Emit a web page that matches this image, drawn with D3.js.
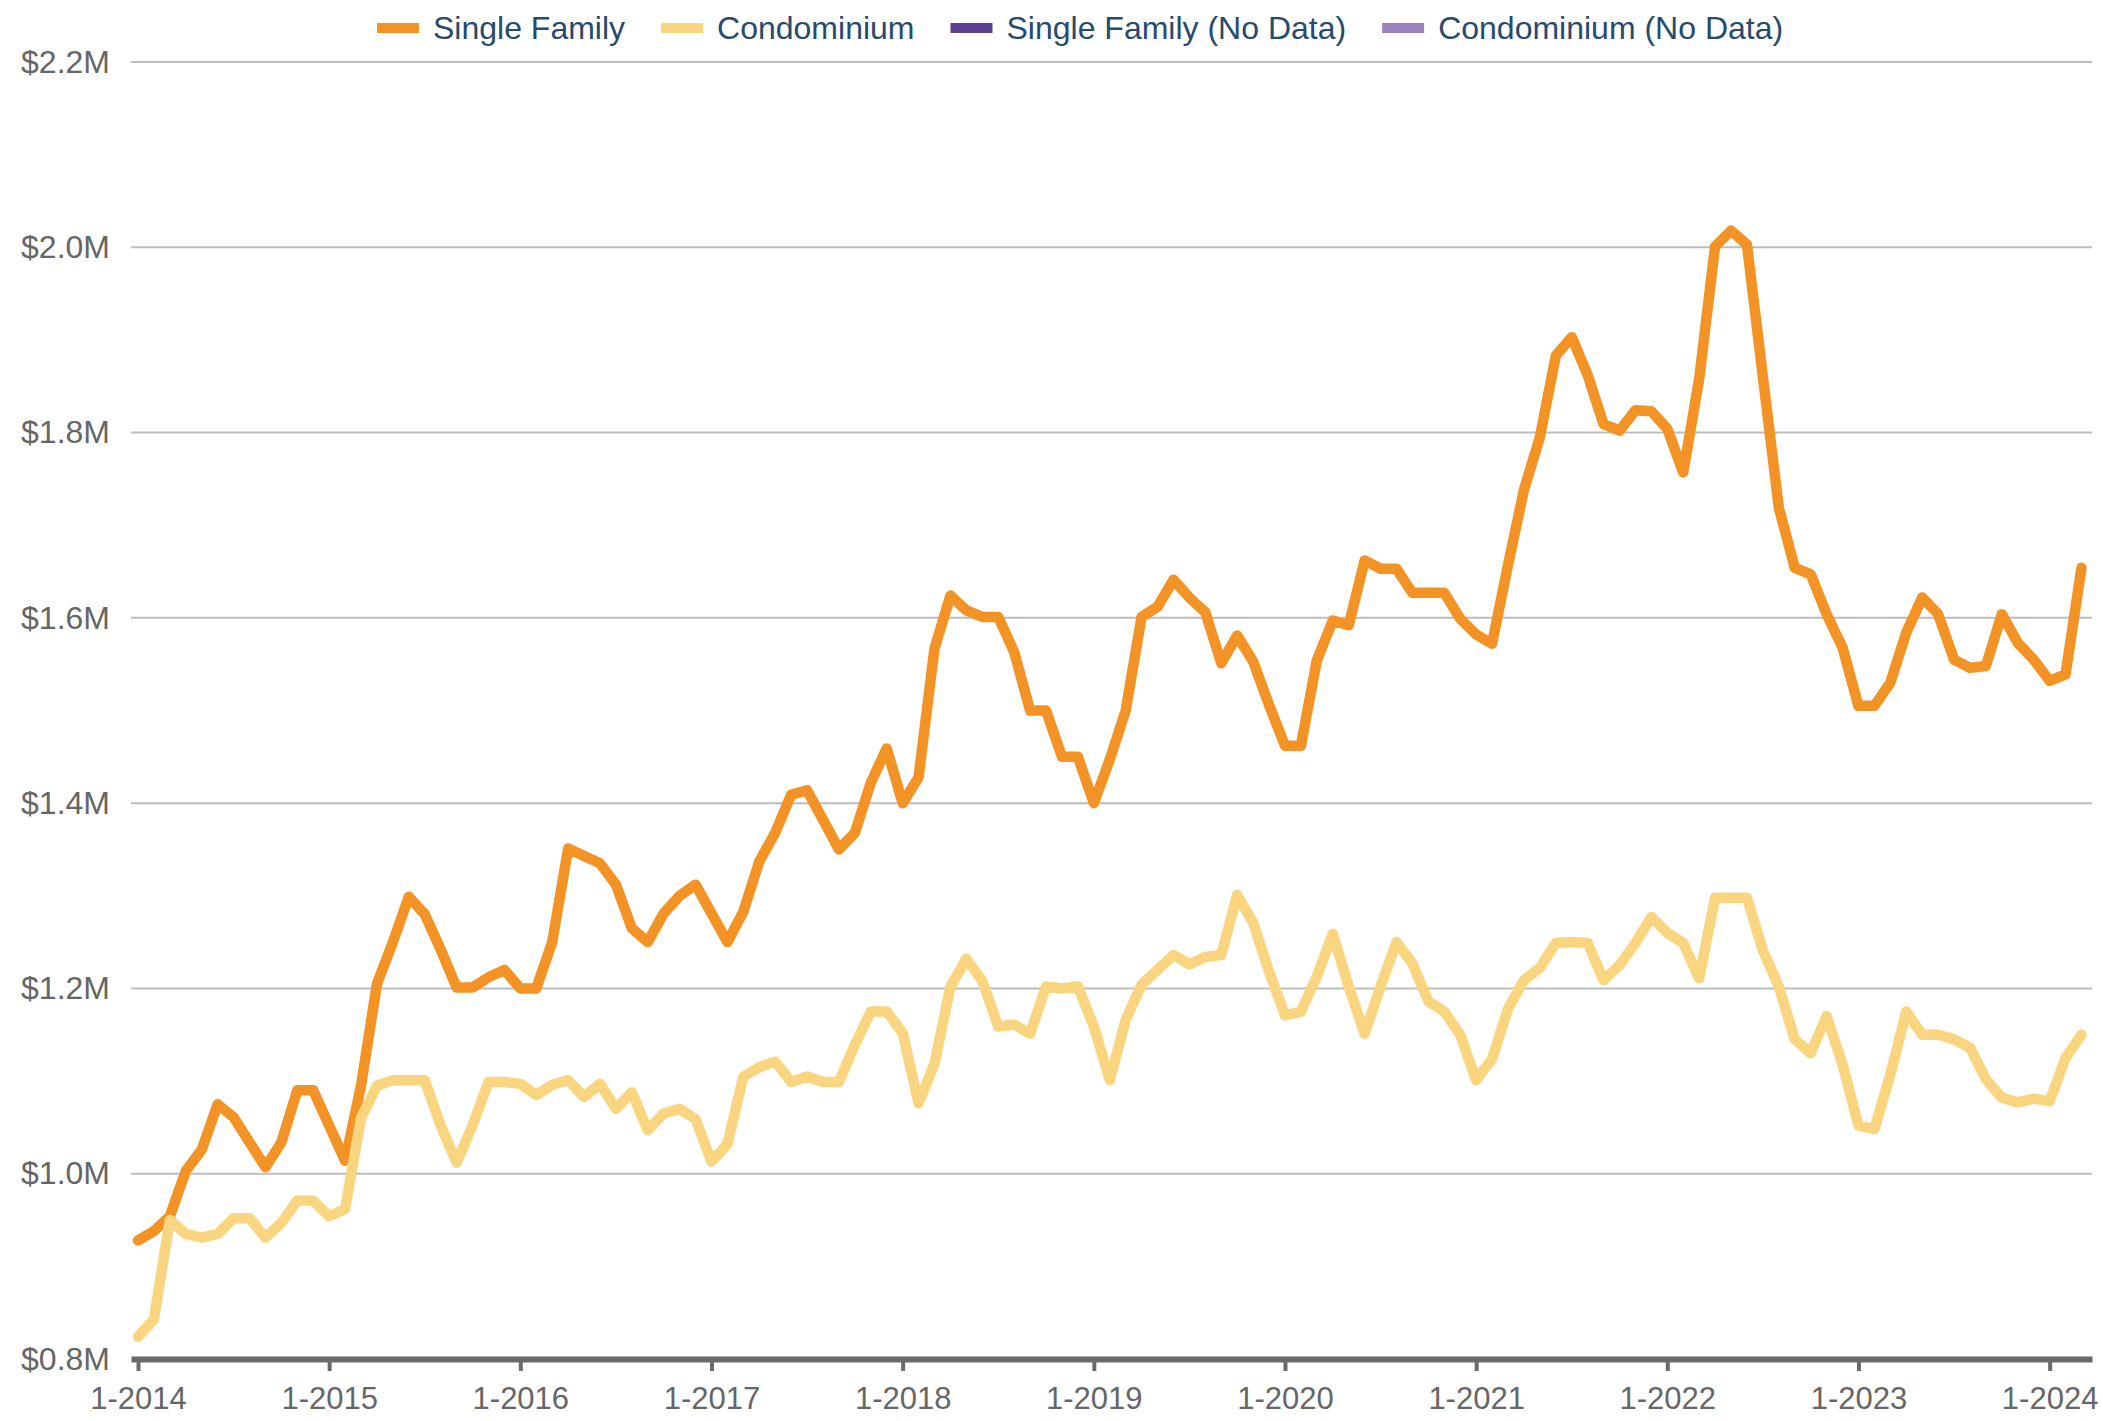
<!DOCTYPE html>
<html>
<head>
<meta charset="utf-8">
<script src="https://cdn.jsdelivr.net/npm/d3@7"></script>
<style>
  body { margin: 0; background: #fff; }
  svg { display: block; font-family: "Liberation Sans", Arial, sans-serif; }
</style>
</head>
<body>
<svg width="2103" height="1421"></svg>
<script>
// monthly median price ($M), 1-2014 .. 3-2024
var singleFamily = [
  0.928, 0.938, 0.954, 1.003, 1.026, 1.075, 1.061, 1.034, 1.007, 1.034, 1.090, 1.090,
  1.052, 1.014, 1.095, 1.205, 1.250, 1.299, 1.280, 1.242, 1.201, 1.201, 1.212, 1.220,
  1.200, 1.200, 1.250, 1.351, 1.343, 1.335, 1.312, 1.265, 1.250, 1.281, 1.300, 1.312,
  1.281, 1.250, 1.283, 1.337, 1.368, 1.409, 1.414, 1.382, 1.350, 1.368, 1.422, 1.459,
  1.400, 1.428, 1.567, 1.624, 1.608, 1.601, 1.601, 1.563, 1.500, 1.500, 1.450, 1.450,
  1.400, 1.447, 1.500, 1.601, 1.612, 1.641, 1.622, 1.606, 1.551, 1.581, 1.553, 1.506,
  1.462, 1.462, 1.554, 1.597, 1.592, 1.662, 1.653, 1.653, 1.627, 1.627, 1.627, 1.599,
  1.582, 1.572, 1.657, 1.738, 1.795, 1.883, 1.903, 1.862, 1.809, 1.802, 1.824, 1.823,
  1.804, 1.757, 1.858, 2.001, 2.018, 2.003, 1.860, 1.719, 1.654, 1.647, 1.604, 1.568,
  1.505, 1.505, 1.530, 1.584, 1.622, 1.604, 1.555, 1.546, 1.548, 1.604, 1.573, 1.555,
  1.532, 1.539, 1.654
];

var condominium = [
  0.824, 0.843, 0.950, 0.935, 0.931, 0.935, 0.952, 0.952, 0.931, 0.947, 0.971, 0.971,
  0.954, 0.962, 1.060, 1.095, 1.101, 1.101, 1.101, 1.052, 1.012, 1.052, 1.099, 1.099,
  1.097, 1.085, 1.096, 1.101, 1.083, 1.097, 1.070, 1.088, 1.047, 1.065, 1.070, 1.059,
  1.013, 1.032, 1.105, 1.115, 1.121, 1.099, 1.105, 1.099, 1.099, 1.139, 1.175, 1.175,
  1.152, 1.076, 1.119, 1.202, 1.232, 1.208, 1.159, 1.161, 1.151, 1.202, 1.200, 1.202,
  1.159, 1.101, 1.166, 1.204, 1.220, 1.236, 1.226, 1.234, 1.236, 1.301, 1.271, 1.218,
  1.171, 1.175, 1.213, 1.259, 1.202, 1.151, 1.202, 1.250, 1.227, 1.186, 1.175, 1.150,
  1.101, 1.124, 1.178, 1.209, 1.222, 1.249, 1.250, 1.249, 1.209, 1.225, 1.249, 1.277,
  1.260, 1.249, 1.211, 1.298, 1.298, 1.298, 1.241, 1.202, 1.145, 1.130, 1.170, 1.118,
  1.052, 1.048, 1.107, 1.175, 1.150, 1.150, 1.145, 1.136, 1.102, 1.082, 1.077, 1.081,
  1.078, 1.125, 1.150
];

var xTickLabels = ["1-2014", "1-2015", "1-2016", "1-2017", "1-2018", "1-2019",
                   "1-2020", "1-2021", "1-2022", "1-2023", "1-2024"];
var yTickValues = [0.8, 1.0, 1.2, 1.4, 1.6, 1.8, 2.0, 2.2];
var legendKeys = ["Single Family", "Condominium", "Single Family (No Data)", "Condominium (No Data)"];
var legendColors = ["#f39325", "#f9d580", "#5b3f91", "#9c82bf"];

var svg = d3.select("svg"),
    margin = {top: 62, right: 11, bottom: 62, left: 131},
    width = +svg.attr("width") - margin.left - margin.right,
    height = +svg.attr("height") - margin.top - margin.bottom;

// months are evenly spaced, 1-2014 sits a little right of the plot edge
var x = d3.scaleLinear().domain([-0.44, 122.66]).range([0, width]),
    y = d3.scaleLinear().domain([0.8, 2.2]).range([height, 0]);

var g = svg.append("g")
    .attr("transform", "translate(" + margin.left + "," + margin.top + ")");

// horizontal grid lines
g.append("g")
    .attr("class", "grid")
    .selectAll("line")
    .data(yTickValues.slice(1))
    .enter().append("line")
    .attr("x1", 0)
    .attr("x2", width)
    .attr("y1", function(d) { return y(d); })
    .attr("y2", function(d) { return y(d); })
    .attr("stroke", "#bdbdbd")
    .attr("stroke-width", 2);

// y axis labels only (no line)
var yAxis = d3.axisLeft(y)
    .tickValues(yTickValues)
    .tickSize(0)
    .tickPadding(21)
    .tickFormat(function(d) { return "$" + d.toFixed(1) + "M"; });

g.append("g")
    .attr("class", "axis axis--y")
    .call(yAxis)
    .call(function(s) { s.select(".domain").remove(); })
    .selectAll("text")
    .attr("fill", "#666")
    .attr("font-size", 32);

// x axis: thick baseline with ticks every january
var xAxis = d3.axisBottom(x)
    .tickValues(d3.range(0, 121, 12))
    .tickSize(12)
    .tickSizeOuter(0)
    .tickPadding(16)
    .tickFormat(function(d, i) { return xTickLabels[i]; });

var xg = g.append("g")
    .attr("class", "axis axis--x")
    .attr("transform", "translate(0," + height + ")")
    .call(xAxis);

xg.select(".domain")
    .attr("stroke", "#6b6b6b")
    .attr("stroke-width", 6);
xg.selectAll(".tick line")
    .attr("stroke", "#6b6b6b")
    .attr("stroke-width", 4);
xg.selectAll("text")
    .attr("fill", "#666")
    .attr("font-size", 31);

var line = d3.line()
    .x(function(d, i) { return x(i); })
    .y(function(d) { return y(d); });

g.append("path")
    .datum(singleFamily)
    .attr("class", "lineSingleFamily")
    .attr("fill", "none")
    .attr("stroke", legendColors[0])
    .attr("stroke-width", 10.5)
    .attr("stroke-linejoin", "round")
    .attr("stroke-linecap", "round")
    .attr("d", line);

g.append("path")
    .datum(condominium)
    .attr("class", "lineCondo")
    .attr("fill", "none")
    .attr("stroke", legendColors[1])
    .attr("stroke-width", 10.5)
    .attr("stroke-linejoin", "round")
    .attr("stroke-linecap", "round")
    .attr("d", line);

// legend, laid out left to right from measured text widths
var legend = svg.append("g")
    .attr("class", "legend")
    .attr("transform", "translate(377,28)");

var cursor = 0;
legendKeys.forEach(function(key, i) {
  var item = legend.append("g").attr("transform", "translate(" + cursor + ",0)");
  item.append("rect")
      .attr("x", 0)
      .attr("y", -5)
      .attr("width", 42)
      .attr("height", 10)
      .attr("fill", legendColors[i]);
  var t = item.append("text")
      .attr("x", 56)
      .attr("dy", "0.35em")
      .attr("fill", "#274a6d")
      .attr("font-size", 32)
      .attr("textLength", null)
      .text(key);
  cursor += 56 + t.node().getComputedTextLength() + 36;
});
</script>
</body>
</html>
